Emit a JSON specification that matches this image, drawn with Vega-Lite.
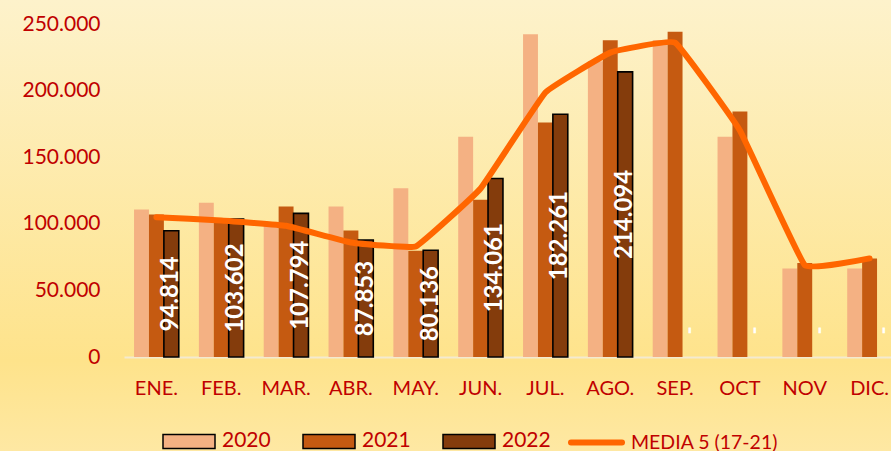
{
  "$schema": "https://vega.github.io/schema/vega-lite/v6.json",
  "width": 891,
  "height": 451,
  "padding": 0,
  "autosize": {"type": "none"},
  "background": "#fee7a2",
  "view": {
    "stroke": null,
    "fill": {
      "gradient": "linear",
      "x1": 0, "y1": 0, "x2": 0, "y2": 1,
      "stops": [
        {"offset": 0, "color": "#fdf2cb"},
        {"offset": 0.8, "color": "#fee38b"},
        {"offset": 1, "color": "#fee8a3"}
      ]
    }
  },
  "datasets": {
    "bars": [
      {"mes": "ENE.", "serie": "2020", "v": 110800},
      {"mes": "FEB.", "serie": "2020", "v": 115800},
      {"mes": "MAR.", "serie": "2020", "v": 100500},
      {"mes": "ABR.", "serie": "2020", "v": 113000},
      {"mes": "MAY.", "serie": "2020", "v": 126700},
      {"mes": "JUN.", "serie": "2020", "v": 165400},
      {"mes": "JUL.", "serie": "2020", "v": 242300},
      {"mes": "AGO.", "serie": "2020", "v": 222000},
      {"mes": "SEP.", "serie": "2020", "v": 238000},
      {"mes": "OCT", "serie": "2020", "v": 165400},
      {"mes": "NOV", "serie": "2020", "v": 66400},
      {"mes": "DIC.", "serie": "2020", "v": 66500},
      {"mes": "ENE.", "serie": "2021", "v": 107000},
      {"mes": "FEB.", "serie": "2021", "v": 104000},
      {"mes": "MAR.", "serie": "2021", "v": 113000},
      {"mes": "ABR.", "serie": "2021", "v": 95000},
      {"mes": "MAY.", "serie": "2021", "v": 79700},
      {"mes": "JUN.", "serie": "2021", "v": 118000},
      {"mes": "JUL.", "serie": "2021", "v": 176000},
      {"mes": "AGO.", "serie": "2021", "v": 237800},
      {"mes": "SEP.", "serie": "2021", "v": 244200},
      {"mes": "OCT", "serie": "2021", "v": 184400},
      {"mes": "NOV", "serie": "2021", "v": 70500},
      {"mes": "DIC.", "serie": "2021", "v": 74000},
      {"mes": "ENE.", "serie": "2022", "v": 94814},
      {"mes": "FEB.", "serie": "2022", "v": 103602},
      {"mes": "MAR.", "serie": "2022", "v": 107794},
      {"mes": "ABR.", "serie": "2022", "v": 87853},
      {"mes": "MAY.", "serie": "2022", "v": 80136},
      {"mes": "JUN.", "serie": "2022", "v": 134061},
      {"mes": "JUL.", "serie": "2022", "v": 182261},
      {"mes": "AGO.", "serie": "2022", "v": 214094},
      {"mes": "SEP.", "serie": "2022", "v": 0},
      {"mes": "OCT", "serie": "2022", "v": 0},
      {"mes": "NOV", "serie": "2022", "v": 0},
      {"mes": "DIC.", "serie": "2022", "v": 0}
    ],
    "media": [
      {"mes": "ENE.", "serie": "MEDIA 5 (17-21)", "v": 105000},
      {"mes": "FEB.", "serie": "MEDIA 5 (17-21)", "v": 102500},
      {"mes": "MAR.", "serie": "MEDIA 5 (17-21)", "v": 98500},
      {"mes": "ABR.", "serie": "MEDIA 5 (17-21)", "v": 86000},
      {"mes": "MAY.", "serie": "MEDIA 5 (17-21)", "v": 83000},
      {"mes": "JUN.", "serie": "MEDIA 5 (17-21)", "v": 126500},
      {"mes": "JUL.", "serie": "MEDIA 5 (17-21)", "v": 198600},
      {"mes": "AGO.", "serie": "MEDIA 5 (17-21)", "v": 228500},
      {"mes": "SEP.", "serie": "MEDIA 5 (17-21)", "v": 236000},
      {"mes": "OCT", "serie": "MEDIA 5 (17-21)", "v": 170000},
      {"mes": "NOV", "serie": "MEDIA 5 (17-21)", "v": 69000},
      {"mes": "DIC.", "serie": "MEDIA 5 (17-21)", "v": 74000}
    ]
  },
  "layer": [
    {
      "data": {"name": "bars"},
      "transform": [{"filter": "datum.v > 0"}],
      "mark": {"type": "bar", "stroke": "#000000"},
      "encoding": {
        "x": {
          "field": "mes", "type": "nominal",
          "sort": ["ENE.", "FEB.", "MAR.", "ABR.", "MAY.", "JUN.", "JUL.", "AGO.", "SEP.", "OCT", "NOV", "DIC."],
          "scale": {"range": [124, 902], "paddingInner": 0.31, "paddingOuter": 0.155},
          "axis": {
            "orient": "bottom", "offset": -94, "title": null,
            "domain": true, "domainColor": "#f3ead0", "domainWidth": 2,
            "ticks": false, "tickSize": 0, "grid": false,
            "labelPadding": 21, "labelFont": "Lato", "labelFontSize": 20,
            "labelColor": "#c00000", "labelAngle": 0
          }
        },
        "xOffset": {
          "field": "serie", "type": "nominal",
          "scale": {"domain": ["2020", "2021", "2022"], "paddingInner": 0, "paddingOuter": 0}
        },
        "y": {
          "field": "v", "type": "quantitative",
          "scale": {"domain": [0, 250000], "range": [357, 24], "nice": false},
          "axis": {
            "orient": "left", "offset": -100, "title": null,
            "values": [0, 50000, 100000, 150000, 200000, 250000],
            "labelExpr": "replace(format(datum.value, ','), ',', '.')",
            "domain": false, "ticks": false, "tickSize": 0, "grid": false,
            "labelPadding": 0, "labelFont": "Lato", "labelFontSize": 21,
            "labelColor": "#c00000"
          }
        },
        "fill": {
          "field": "serie", "type": "nominal",
          "scale": {"domain": ["2020", "2021", "2022"], "range": ["#f4b183", "#c55a11", "#843c0c"]},
          "legend": {
            "title": null, "orient": "none", "legendX": 162, "legendY": 414,
            "direction": "horizontal", "padding": 0,
            "symbolType": "M-1,-0.27H1V0.27H-1Z", "symbolSize": 2704,
            "labelFont": "Lato", "labelFontSize": 21, "labelColor": "#c00000",
            "labelOffset": 6, "columnPadding": 29,
            "encode": {
              "symbols": {
                "update": {
                  "stroke": {"signal": "datum.value === '2022' ? '#000000' : 'transparent'"},
                  "strokeWidth": {"value": 2}
                }
              }
            }
          }
        },
        "strokeWidth": {"condition": {"test": "datum.serie === '2022'", "value": 1.6}, "value": 0}
      }
    },
    {
      "data": {"name": "media"},
      "mark": {"type": "line", "interpolate": "cardinal", "tension": 0.75, "strokeWidth": 6, "strokeCap": "round", "strokeJoin": "round"},
      "encoding": {
        "x": {"field": "mes", "type": "nominal", "sort": ["ENE.", "FEB.", "MAR.", "ABR.", "MAY.", "JUN.", "JUL.", "AGO.", "SEP.", "OCT", "NOV", "DIC."]},
        "y": {"field": "v", "type": "quantitative"},
        "stroke": {
          "field": "serie", "type": "nominal",
          "scale": {"range": ["#ff6600"]},
          "legend": {
            "title": null, "orient": "none", "legendX": 568, "legendY": 414,
            "padding": 0,
            "symbolType": "M-1,0H1", "symbolSize": 2601, "symbolStrokeWidth": 6,
            "labelFont": "Lato", "labelFontSize": 19.5, "labelColor": "#c00000",
            "labelOffset": 6, "labelLimit": 400,
            "encode": {"symbols": {"update": {"strokeCap": {"value": "round"}, "fill": {"value": "transparent"}}}}
          }
        }
      }
    },
    {
      "data": {"name": "bars"},
      "transform": [
        {"filter": "datum.serie === '2022' && datum.v > 0"},
        {"calculate": "datum.v / 2", "as": "mid"},
        {"calculate": "replace(format(datum.v, ','), ',', '.')", "as": "lbl"}
      ],
      "mark": {"type": "text", "angle": 270, "color": "#ffffff", "font": "Lato", "fontSize": 24, "fontWeight": "bold", "baseline": "middle", "align": "center"},
      "encoding": {
        "x": {"field": "mes", "type": "nominal", "sort": ["ENE.", "FEB.", "MAR.", "ABR.", "MAY.", "JUN.", "JUL.", "AGO.", "SEP.", "OCT", "NOV", "DIC."]},
        "xOffset": {"field": "serie", "type": "nominal"},
        "y": {"field": "mid", "type": "quantitative"},
        "text": {"field": "lbl"}
      }
    },
    {
      "data": {"name": "bars"},
      "transform": [{"filter": "datum.serie === '2022' && datum.v === 0"}],
      "mark": {"type": "text", "angle": 270, "color": "#ffffff", "font": "Lato", "fontSize": 22, "fontWeight": "bold", "baseline": "middle", "align": "center"},
      "encoding": {
        "x": {"field": "mes", "type": "nominal", "sort": ["ENE.", "FEB.", "MAR.", "ABR.", "MAY.", "JUN.", "JUL.", "AGO.", "SEP.", "OCT", "NOV", "DIC."]},
        "xOffset": {"field": "serie", "type": "nominal"},
        "y": {"datum": 20000, "type": "quantitative"},
        "text": {"value": "-"}
      }
    }
  ],
  "config": {"font": "Lato"}
}
